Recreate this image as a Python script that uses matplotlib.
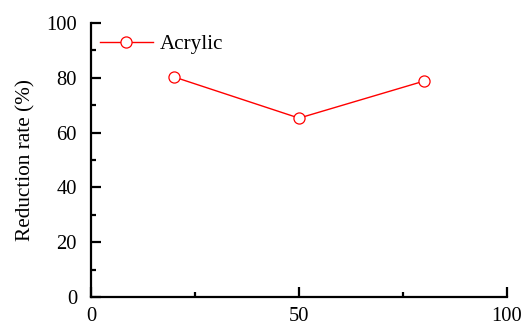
import matplotlib.pyplot as plt
from matplotlib.ticker import MultipleLocator

# datos
x_vals = [20, 50, 80]
reduccion = [80.3, 65.3, 78.8]
etiqueta = "Acrylic"

plt.rcParams['font.family'] = ['Liberation Serif', 'DejaVu Serif']

fig = plt.figure(figsize=(5.26, 3.29), dpi=100)
ax = fig.add_axes([0.173, 0.097, 0.791, 0.833])

ax.plot(x_vals, reduccion, color='red', lw=1.0, marker='o', ms=8,
        mfc='white', mec='red', mew=0.9, label=etiqueta, clip_on=False)

ax.set_xlim(0, 100)
ax.set_ylim(0, 100)
ax.xaxis.set_major_locator(MultipleLocator(50))
ax.xaxis.set_minor_locator(MultipleLocator(25))
ax.yaxis.set_major_locator(MultipleLocator(20))
ax.yaxis.set_minor_locator(MultipleLocator(10))

for lado in ['top', 'right']:
    ax.spines[lado].set_visible(False)
for lado in ['left', 'bottom']:
    ax.spines[lado].set_linewidth(1.6)

ax.tick_params(which='major', direction='in', length=7, width=1.6, labelsize=14.8)
ax.tick_params(which='minor', direction='in', length=3.5, width=1.6)
ax.tick_params(axis='y', pad=10)
ax.tick_params(axis='x', pad=7)

ax.set_ylabel("Reduction rate (%)", fontsize=15.3, labelpad=8)

ax.legend(loc='upper left', bbox_to_anchor=(-0.01, 1.005), frameon=False, fontsize=15.2,
          handlelength=2.55, handletextpad=0.3, borderaxespad=0.2)

fig.savefig("out.png", dpi=100)
